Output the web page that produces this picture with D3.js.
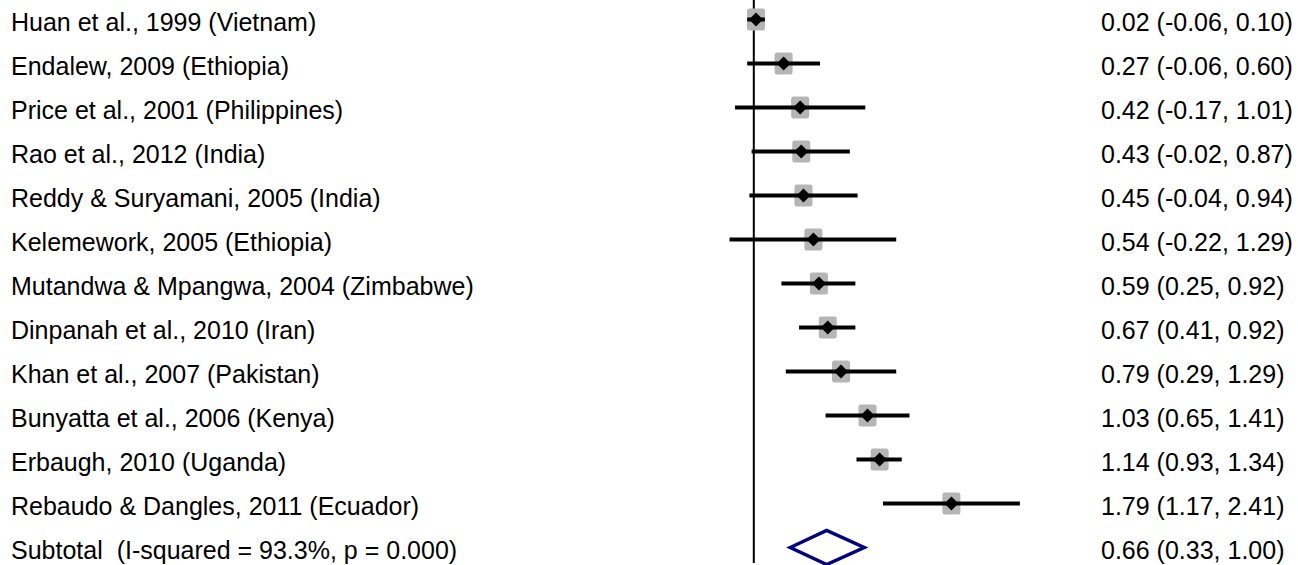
<!DOCTYPE html>
<html>
<head>
<meta charset="utf-8">
<script src="https://cdn.jsdelivr.net/npm/d3@7"></script>
<style>
  html, body { margin: 0; padding: 0; background: #fff; }
  svg { display: block; }
  text { font-family: "Liberation Sans", Arial, sans-serif; font-size: 25px; fill: #000; white-space: pre; }
</style>
</head>
<body>
<svg id="chart" width="1298" height="565"></svg>
<script>
const studies = [
  "Huan et al., 1999 (Vietnam)",
  "Endalew, 2009 (Ethiopia)",
  "Price et al., 2001 (Philippines)",
  "Rao et al., 2012 (India)",
  "Reddy & Suryamani, 2005 (India)",
  "Kelemework, 2005 (Ethiopia)",
  "Mutandwa & Mpangwa, 2004 (Zimbabwe)",
  "Dinpanah et al., 2010 (Iran)",
  "Khan et al., 2007 (Pakistan)",
  "Bunyatta et al., 2006 (Kenya)",
  "Erbaugh, 2010 (Uganda)",
  "Rebaudo & Dangles, 2011 (Ecuador)"
];
const effects = [0.02, 0.27, 0.42, 0.43, 0.45, 0.54, 0.59, 0.67, 0.79, 1.03, 1.14, 1.79];
const lower   = [-0.06, -0.06, -0.17, -0.02, -0.04, -0.22, 0.25, 0.41, 0.29, 0.65, 0.93, 1.17];
const upper   = [0.10, 0.60, 1.01, 0.87, 0.94, 1.29, 0.92, 0.92, 1.29, 1.41, 1.34, 2.41];
const subtotalLabel = "Subtotal  (I-squared = 93.3%, p = 0.000)";
const subtotal = { est: 0.66, lo: 0.33, hi: 1.00 };

const f2 = d3.format(".2f");
const fmt = v => f2(v).replace("\u2212", "-");
const ciText = (e, l, u) => `${fmt(e)} (${fmt(l)}, ${fmt(u)})`;

const svg = d3.select("#chart");
const x = d3.scaleLinear().domain([0, 1]).range([753.8, 864.2]);
const rows = studies.concat([subtotalLabel]);
const y = d3.scalePoint().domain(d3.range(rows.length)).range([19.5, 547.5]);

// null line
svg.append("line")
  .attr("x1", x(0)).attr("x2", x(0))
  .attr("y1", 0).attr("y2", 563)
  .attr("stroke", "#000").attr("stroke-width", 2);

const data = studies.map((s, i) => ({ s, e: effects[i], l: lower[i], u: upper[i], i }));

const g = svg.append("g");
// weight boxes
g.selectAll("rect.box").data(data).join("rect")
  .attr("class", "box")
  .attr("x", d => x(d.e) - 9).attr("y", d => y(d.i) - 11)
  .attr("width", 18).attr("height", 22)
  .attr("rx", 2.5)
  .attr("fill", "#b5b5b5");

// CI lines
g.selectAll("line.ci").data(data).join("line")
  .attr("class", "ci")
  .attr("x1", d => x(d.l)).attr("x2", d => x(d.u))
  .attr("y1", d => y(d.i)).attr("y2", d => y(d.i))
  .attr("stroke", "#000").attr("stroke-width", 4);

// point markers (diamonds)
g.selectAll("path.pt").data(data).join("path")
  .attr("class", "pt")
  .attr("d", d => {
    const cx = x(d.e), cy = y(d.i);
    return `M${cx - 7},${cy} L${cx},${cy - 7} L${cx + 7},${cy} L${cx},${cy + 7} Z`;
  })
  .attr("fill", "#000");

// subtotal diamond
const sy = y(rows.length - 1);
svg.append("path")
  .attr("d", `M${x(subtotal.lo)},${sy} L${x(subtotal.est)},${sy - 17} L${x(subtotal.hi)},${sy} L${x(subtotal.est)},${sy + 17} Z`)
  .attr("fill", "none")
  .attr("stroke", "#000080")
  .attr("stroke-width", 3.5)
  .attr("stroke-linejoin", "miter");

// left labels
svg.selectAll("text.lab").data(rows).join("text")
  .attr("class", "lab")
  .attr("x", 11)
  .attr("y", (d, i) => y(i) + 11)
  .attr("xml:space", "preserve")
  .text(d => d);

// right estimate text
const rightTexts = data.map(d => ciText(d.e, d.l, d.u)).concat([ciText(subtotal.est, subtotal.lo, subtotal.hi)]);
svg.selectAll("text.est").data(rightTexts).join("text")
  .attr("class", "est")
  .attr("x", 1101)
  .attr("y", (d, i) => y(i) + 11)
  .text(d => d);
</script>
</body>
</html>
